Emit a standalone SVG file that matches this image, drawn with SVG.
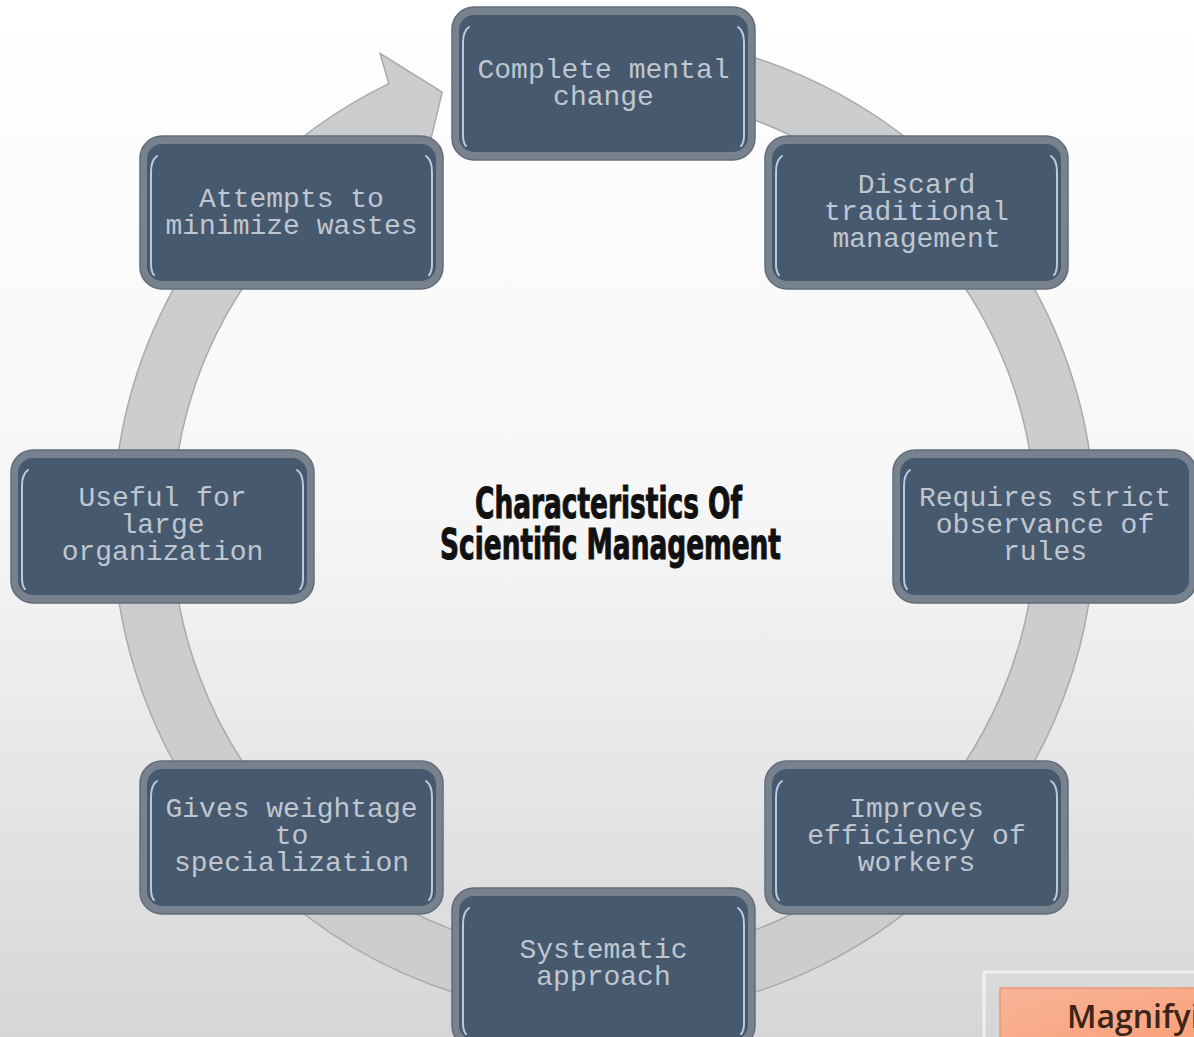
<svg xmlns="http://www.w3.org/2000/svg" width="1194" height="1037" viewBox="0 0 1194 1037">
<defs>
<linearGradient id="bg" x1="0" y1="0" x2="0" y2="1">
<stop offset="0" stop-color="#ffffff"/>
<stop offset="0.5" stop-color="#f6f6f6"/>
<stop offset="1" stop-color="#d6d6d6"/>
</linearGradient>
<linearGradient id="orange" x1="0" y1="0" x2="1" y2="1">
<stop offset="0" stop-color="#f7b497"/>
<stop offset="1" stop-color="#fb9f78"/>
</linearGradient>
<style>
.nb{fill:#77828e;stroke:#626d79;stroke-width:1.5}
.nf{fill:#47596f}
.hl{fill:none;stroke:#bccad7;stroke-width:2;stroke-linecap:round}
.lbl{font-family:"Liberation Mono","Courier New",monospace;font-size:28px;fill:#bfc6cf;text-anchor:middle}
.ttl{font-family:"DejaVu Sans Condensed","Liberation Sans Narrow","DejaVu Sans",sans-serif;font-weight:bold;font-size:42px;fill:#111111;stroke:#111111;stroke-width:1;text-anchor:middle}
</style>
</defs>
<rect width="1194" height="1037" fill="url(#bg)"/>
<g id="connectors">
<path d="M629.7,34.7 A491,491 0 1 1 388.8,83.7 L380.1,53.5 L442.2,92.2 L424.6,165.2 L414.6,136.7 A432,432 0 1 0 626.6,93.6 Z" fill="#cccdcf" stroke="#a7aaad" stroke-width="1.5" stroke-linejoin="miter"/>
</g>
<g id="node-complete" transform="translate(452,7)">
<rect class="nb" width="303" height="153" rx="22"/>
<rect class="nf" x="7" y="8" width="289" height="137" rx="15"/>
<path class="hl" d="M17,20 Q11,24 11,36 V128 Q11,136 14,139"/>
<path class="hl" d="M286,20 Q292,24 292,36 V128 Q292,136 289,139"/>
<text class="lbl" x="151.5" y="70.5">Complete mental</text>
<text class="lbl" x="151.5" y="97.5">change</text>
</g>
<g id="node-discard" transform="translate(765,136)">
<rect class="nb" width="303" height="153" rx="22"/>
<rect class="nf" x="7" y="8" width="289" height="137" rx="15"/>
<path class="hl" d="M17,20 Q11,24 11,36 V128 Q11,136 14,139"/>
<path class="hl" d="M286,20 Q292,24 292,36 V128 Q292,136 289,139"/>
<text class="lbl" x="151.5" y="57">Discard</text>
<text class="lbl" x="151.5" y="84">traditional</text>
<text class="lbl" x="151.5" y="111">management</text>
</g>
<g id="node-requires" transform="translate(893,450)">
<rect class="nb" width="303" height="153" rx="22"/>
<rect class="nf" x="7" y="8" width="289" height="137" rx="15"/>
<path class="hl" d="M17,20 Q11,24 11,36 V128 Q11,136 14,139"/>
<text class="lbl" x="152" y="56">Requires strict</text>
<text class="lbl" x="152" y="83">observance of</text>
<text class="lbl" x="152" y="110">rules</text>
</g>
<g id="node-improves" transform="translate(765,761)">
<rect class="nb" width="303" height="153" rx="22"/>
<rect class="nf" x="7" y="8" width="289" height="137" rx="15"/>
<path class="hl" d="M17,20 Q11,24 11,36 V128 Q11,136 14,139"/>
<path class="hl" d="M286,20 Q292,24 292,36 V128 Q292,136 289,139"/>
<text class="lbl" x="151.5" y="56">Improves</text>
<text class="lbl" x="151.5" y="83">efficiency of</text>
<text class="lbl" x="151.5" y="110">workers</text>
</g>
<g id="node-systematic" transform="translate(452,888)">
<rect class="nb" width="303" height="160" rx="22"/>
<rect class="nf" x="7" y="8" width="289" height="144" rx="15"/>
<path class="hl" d="M17,20 Q11,24 11,36 V135 Q11,143 14,146"/>
<path class="hl" d="M286,20 Q292,24 292,36 V135 Q292,143 289,146"/>
<text class="lbl" x="151.5" y="70">Systematic</text>
<text class="lbl" x="151.5" y="97">approach</text>
</g>
<g id="node-gives" transform="translate(140,761)">
<rect class="nb" width="303" height="153" rx="22"/>
<rect class="nf" x="7" y="8" width="289" height="137" rx="15"/>
<path class="hl" d="M17,20 Q11,24 11,36 V128 Q11,136 14,139"/>
<path class="hl" d="M286,20 Q292,24 292,36 V128 Q292,136 289,139"/>
<text class="lbl" x="151.5" y="56">Gives weightage</text>
<text class="lbl" x="151.5" y="83">to</text>
<text class="lbl" x="151.5" y="110">specialization</text>
</g>
<g id="node-useful" transform="translate(11,450)">
<rect class="nb" width="303" height="153" rx="22"/>
<rect class="nf" x="7" y="8" width="289" height="137" rx="15"/>
<path class="hl" d="M17,20 Q11,24 11,36 V128 Q11,136 14,139"/>
<path class="hl" d="M286,20 Q292,24 292,36 V128 Q292,136 289,139"/>
<text class="lbl" x="151.5" y="56">Useful for</text>
<text class="lbl" x="151.5" y="83">large</text>
<text class="lbl" x="151.5" y="110">organization</text>
</g>
<g id="node-attempts" transform="translate(140,136)">
<rect class="nb" width="303" height="153" rx="22"/>
<rect class="nf" x="7" y="8" width="289" height="137" rx="15"/>
<path class="hl" d="M17,20 Q11,24 11,36 V128 Q11,136 14,139"/>
<path class="hl" d="M286,20 Q292,24 292,36 V128 Q292,136 289,139"/>
<text class="lbl" x="151.5" y="70.5">Attempts to</text>
<text class="lbl" x="151.5" y="97.5">minimize wastes</text>
</g>
<g id="title">
<text class="ttl" x="608.5" y="518" textLength="267" lengthAdjust="spacingAndGlyphs">Characteristics Of</text>
<text class="ttl" x="610.5" y="559" textLength="341" lengthAdjust="spacingAndGlyphs">Scientific Management</text>
</g>
<g id="magnify">
<rect x="984" y="972" width="230" height="80" fill="none" stroke="#eef1f1" stroke-width="3"/>
<rect x="1000" y="988" width="210" height="60" fill="url(#orange)" stroke="#e8987a" stroke-width="1.5"/>
<text x="1067" y="1028" font-family="'Open Sans','Liberation Sans',sans-serif" font-weight="600" font-size="32" fill="#3b2418">Magnifyi</text>
</g>
</svg>
